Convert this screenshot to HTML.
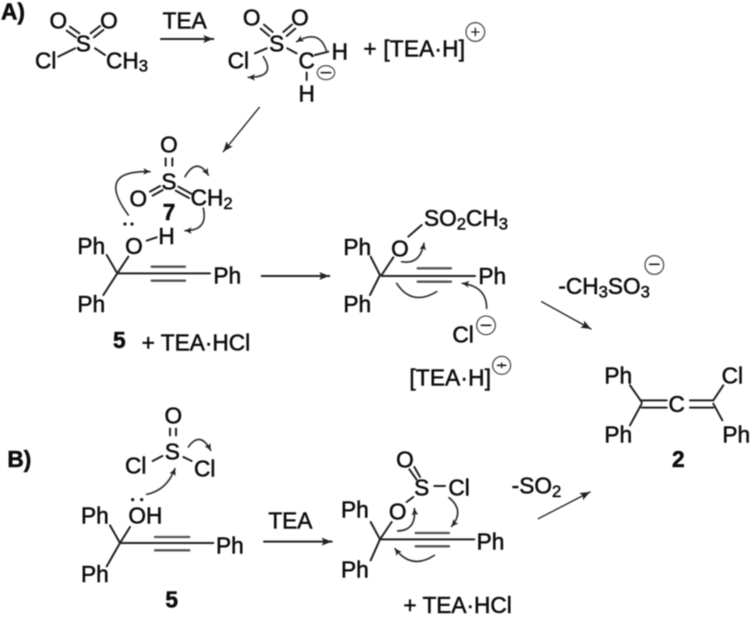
<!DOCTYPE html>
<html><head><meta charset="utf-8"><style>
html,body{margin:0;padding:0;background:#fff;width:750px;height:617px;overflow:hidden}
svg{display:block}
text{font-family:"Liberation Sans",sans-serif;font-size:68px;fill:#111;stroke:#111;stroke-width:1.6}
.m{text-anchor:middle}
.b{font-weight:bold}
.s{font-size:50px}
line,path.l{stroke:#222;stroke-width:6;fill:none;stroke-linecap:round}
.g{stroke:#555;stroke-width:7}
.c{stroke:#333;stroke-width:5;fill:none;stroke-linecap:round}
.q{fill:none;stroke:#555;stroke-width:4}
</style></head><body>
<svg width="750" height="617" viewBox="0 0 750 617" xmlns="http://www.w3.org/2000/svg">
<defs>
<filter id="f" x="-5%" y="-5%" width="110%" height="110%"><feGaussianBlur stdDeviation="0.55"/></filter>
<marker id="a" markerUnits="userSpaceOnUse" markerWidth="40" markerHeight="30" refX="30" refY="12" orient="auto"><path d="M0 0L30 12L0 24L6 12Z" fill="#222"/></marker>
<marker id="h" markerUnits="userSpaceOnUse" markerWidth="30" markerHeight="30" refX="20" refY="10" orient="auto"><path d="M0 0L20 10L0 20L5 10Z" fill="#222"/></marker>
</defs>
<g filter="url(#f)">
<!-- Q1 -->
<g transform="scale(.33333)">
<text x="3" y="58" class="b">A)</text>
<text x="175" y="85" class="m">O</text><text x="327" y="85" class="m">O</text><text x="250" y="155" class="m">S</text>
<text x="105" y="205">Cl</text><text x="318" y="205">CH<tspan class="s" dy="10">3</tspan></text>
<line x1="175" y1="170" x2="225" y2="145"/><line x1="285" y1="145" x2="315" y2="165"/>
<line x1="200" y1="92" x2="228" y2="112"/><line x1="210" y1="80" x2="238" y2="100"/>
<line x1="272" y1="100" x2="300" y2="78"/><line x1="282" y1="112" x2="310" y2="90"/>
<text x="488" y="85">TEA</text>
<line x1="483" y1="117" x2="640" y2="117" marker-end="url(#a)"/>
<text x="755" y="77" class="m">O</text><text x="900" y="77" class="m">O</text><text x="830" y="155" class="m">S</text>
<text x="683" y="205">Cl</text><text x="920" y="205" class="m">C</text><text x="995" y="178">H</text><text x="920" y="305" class="m">H</text>
<line x1="765" y1="160" x2="800" y2="145"/><line x1="862" y1="145" x2="890" y2="160"/>
<line x1="945" y1="165" x2="985" y2="155"/><line x1="920" y1="218" x2="920" y2="240"/>
<line x1="782" y1="86" x2="808" y2="108"/><line x1="792" y1="74" x2="818" y2="96"/>
<line x1="850" y1="96" x2="876" y2="74"/><line x1="860" y1="108" x2="886" y2="86"/>
<path class="c" d="M790 170Q830 232 745 232" marker-end="url(#h)"/>
<path class="c" d="M980 155Q960 85 890 125" marker-end="url(#h)"/>
<ellipse class="q" cx="978" cy="218" rx="26" ry="21"/><line x1="964" y1="218" x2="992" y2="218" style="stroke-width:5"/>
<text x="1090" y="170">+</text>
<line x1="778" y1="322" x2="670" y2="455" marker-end="url(#a)" style="stroke-width:4"/>
<text x="507" y="458" class="m">O</text><text x="507" y="568" class="m">S</text><text x="415" y="620" class="m">O</text>
<text x="572" y="617">CH<tspan class="s" dy="10">2</tspan></text>
<text x="507" y="660" class="m b">7</text>
<line x1="497" y1="475" x2="497" y2="497"/><line x1="517" y1="475" x2="517" y2="497"/>
<line x1="450" y1="575" x2="480" y2="558"/><line x1="458" y1="587" x2="488" y2="570"/>
<line x1="535" y1="560" x2="575" y2="582"/><line x1="527" y1="572" x2="567" y2="594"/>
<path class="c" d="M385 645Q285 510 450 515" marker-end="url(#h)"/>
<path class="c" d="M555 530Q590 470 625 525" marker-end="url(#h)"/>
<path class="c" d="M610 625Q625 692 555 692" marker-end="url(#h)"/>
<circle cx="375" cy="672" r="5" fill="#222"/><circle cx="396" cy="672" r="5" fill="#222"/>
<text x="402" y="762" class="m">O</text><text x="475" y="732">H</text>
<line x1="440" y1="722" x2="470" y2="712"/>
<text x="232" y="762">Ph</text><text x="640" y="850">Ph</text><text x="232" y="936">Ph</text>
<line x1="320" y1="765" x2="352" y2="820"/><line x1="352" y1="820" x2="385" y2="770"/>
<line x1="352" y1="820" x2="630" y2="820"/><line x1="352" y1="820" x2="310" y2="885"/>
<line class="g" x1="455" y1="800" x2="555" y2="800"/><line class="g" x1="455" y1="842" x2="555" y2="842"/>
<line x1="785" y1="828" x2="988" y2="828" marker-end="url(#a)"/>
<text x="1030" y="765">Ph</text><text x="1030" y="936">Ph</text>
<line x1="1112" y1="770" x2="1140" y2="825"/><line x1="1140" y1="825" x2="1110" y2="885"/>
</g>
<!-- Q2 -->
<g transform="translate(375,0) scale(.33333)">
<text x="25" y="170" textLength="245">[TEA·H]</text>
<circle class="q" cx="301" cy="96" r="28"/><line x1="290" y1="96" x2="312" y2="96" style="stroke-width:4"/><line x1="301" y1="85" x2="301" y2="107" style="stroke-width:4"/>
<text x="75" y="770" class="m">O</text>
<text x="147" y="678">SO<tspan class="s" dy="10">2</tspan><tspan dy="-10">CH</tspan><tspan class="s" dy="10">3</tspan></text>
<line x1="100" y1="710" x2="140" y2="675"/><line x1="20" y1="825" x2="55" y2="772"/>
<line x1="20" y1="828" x2="300" y2="828"/>
<line class="g" x1="128" y1="805" x2="228" y2="805"/><line class="g" x1="128" y1="845" x2="228" y2="845"/>
<text x="310" y="852">Ph</text>
<path class="c" d="M80 785Q135 795 147 730" marker-end="url(#h)"/>
<path class="c" d="M65 850Q110 920 185 875"/>
<path class="c" d="M335 925Q335 860 262 850" marker-end="url(#h)"/>
<text x="550" y="882">-CH<tspan class="s" dy="10">3</tspan><tspan dy="-10">SO</tspan><tspan class="s" dy="10">3</tspan></text>
<circle class="q" cx="838" cy="795" r="28"/><line x1="824" y1="793" x2="852" y2="793" style="stroke-width:5"/>
</g>
<!-- Q3 -->
<g transform="translate(0,307) scale(.33333)">
<text x="358" y="123" class="m b">5</text>
<text x="425" y="130">+ TEA·HCl</text>
<text x="22" y="480" class="b">B)</text>
<text x="520" y="350" class="m">O</text><text x="517" y="458" class="m">S</text>
<text x="375" y="500">Cl</text><text x="582" y="508">Cl</text>
<line x1="510" y1="365" x2="510" y2="385"/><line x1="528" y1="365" x2="528" y2="385"/>
<line x1="458" y1="462" x2="487" y2="447"/><line x1="550" y1="450" x2="575" y2="462"/>
<path class="c" d="M565 420Q600 370 632 430" marker-end="url(#h)"/>
<path class="c" d="M440 562Q500 550 525 485" marker-end="url(#h)"/>
<circle cx="398" cy="578" r="5" fill="#222"/><circle cx="425" cy="578" r="5" fill="#222"/>
<text x="385" y="650">OH</text><text x="243" y="650">Ph</text>
<line x1="330" y1="655" x2="360" y2="708"/><line x1="390" y1="660" x2="360" y2="708"/>
<line x1="360" y1="708" x2="640" y2="708"/><line x1="360" y1="708" x2="320" y2="778"/>
<line class="g" x1="465" y1="690" x2="568" y2="690"/><line class="g" x1="465" y1="730" x2="568" y2="730"/>
<text x="648" y="740">Ph</text><text x="243" y="825">Ph</text>
<line x1="792" y1="704" x2="995" y2="704" marker-end="url(#a)"/>
<text x="805" y="665">TEA</text>
<text x="515" y="902" class="m b">5</text>
<text x="1023" y="632">Ph</text><text x="1023" y="812">Ph</text>
<line x1="1112" y1="645" x2="1140" y2="697"/><line x1="1140" y1="697" x2="1112" y2="760"/>
</g>
<!-- Q4 -->
<g transform="translate(375,307) scale(.33333)">
<text x="232" y="107">Cl</text>
<circle class="q" cx="333" cy="55" r="28"/><line x1="319" y1="55" x2="347" y2="55" style="stroke-width:5"/>
<text x="103" y="235" textLength="245">[TEA·H]</text>
<circle class="q" cx="380" cy="175" r="27"/><line x1="368" y1="175" x2="392" y2="175" style="stroke-width:5"/><line x1="380" y1="168" x2="380" y2="182" style="stroke-width:4"/>
<line x1="500" y1="-16" x2="648" y2="66" marker-end="url(#a)" style="stroke-width:4"/>
<text x="688" y="230">Ph</text><text x="1040" y="230">Cl</text><text x="905" y="315" class="m">C</text>
<text x="688" y="407">Ph</text><text x="1042" y="407">Ph</text><text x="910" y="480" class="m b">2</text>
<line x1="765" y1="235" x2="800" y2="285"/><line x1="800" y1="290" x2="765" y2="355"/>
<line x1="800" y1="280" x2="875" y2="280"/><line x1="800" y1="302" x2="875" y2="302"/>
<line x1="945" y1="280" x2="1015" y2="280"/><line x1="945" y1="302" x2="1015" y2="302"/>
<line x1="1015" y1="280" x2="1045" y2="235"/><line x1="1015" y1="290" x2="1042" y2="340"/>
<text x="90" y="482" class="m">O</text><text x="140" y="565" class="m">S</text><text x="220" y="565">Cl</text>
<text x="68" y="637" class="m">O</text>
<line x1="178" y1="537" x2="210" y2="537"/>
<line x1="103" y1="487" x2="125" y2="518"/><line x1="118" y1="480" x2="135" y2="510"/>
<line x1="95" y1="585" x2="115" y2="570"/>
<line x1="15" y1="697" x2="298" y2="697"/><line x1="15" y1="697" x2="50" y2="645"/>
<line class="g" x1="122" y1="678" x2="222" y2="678"/><line class="g" x1="122" y1="718" x2="222" y2="718"/>
<text x="305" y="728">Ph</text>
<path class="c" d="M68 672Q125 670 118 605" marker-end="url(#h)"/>
<path class="c" d="M222 572Q270 610 230 658" marker-end="url(#h)"/>
<path class="c" d="M178 745Q110 790 60 725" marker-end="url(#h)"/>
<text x="410" y="560">-SO<tspan class="s" dy="10">2</tspan></text>
<line x1="490" y1="635" x2="645" y2="555" marker-end="url(#a)" style="stroke-width:4"/>
<text x="85" y="918">+ TEA·HCl</text>
</g>
</g>
</svg>
</body></html>
